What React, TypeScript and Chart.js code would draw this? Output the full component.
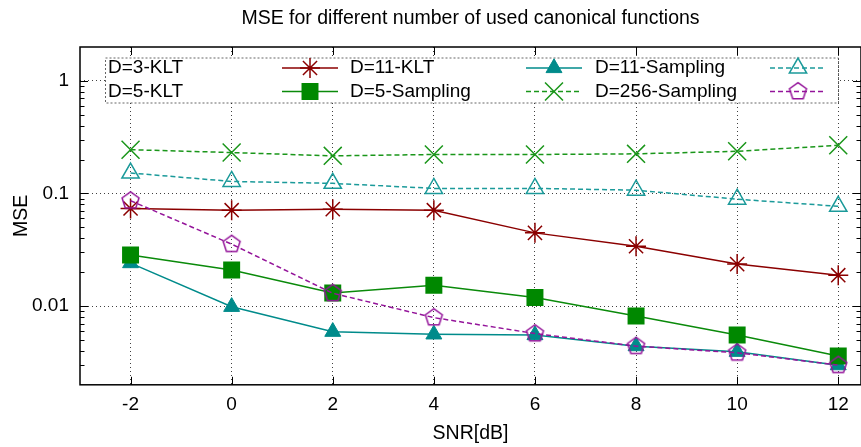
import React, { useEffect, useRef } from 'react';
import { Chart, registerables } from 'chart.js';
import { drawPoint } from 'chart.js/helpers';

Chart.register(...registerables);

// ---- data ----
const TITLE = 'MSE for different number of used canonical functions';
const X_LABEL = 'SNR[dB]';
const Y_LABEL = 'MSE';

const SNR = [-2, 0, 2, 4, 6, 8, 10, 12];
const X_TICKS = [-2, 0, 2, 4, 6, 8, 10, 12];
const Y_TICKS = [0.01, 0.1, 1];
const X_RANGE = [-3, 12.45];
const Y_RANGE = [0.002, 2];

const SERIES_LABELS = ['D=3-KLT', 'D=11-KLT', 'D=11-Sampling', 'D=5-KLT', 'D=5-Sampling', 'D=256-Sampling'];

const D3_KLT = [0.0736, 0.0711, 0.0726, 0.0711, 0.0447, 0.034, 0.0236, 0.0188];
const D11_KLT = [0.0241, 0.00986, 0.00592, 0.00561, 0.00553, 0.00441, 0.00393, 0.00299];
const D11_SAMPLING = [0.152, 0.128, 0.123, 0.111, 0.111, 0.107, 0.089, 0.077];
const D5_KLT = [0.0284, 0.0209, 0.0131, 0.0153, 0.0119, 0.00815, 0.00553, 0.0036];
const D5_SAMPLING = [0.245, 0.231, 0.216, 0.222, 0.222, 0.225, 0.237, 0.268];
const D256_SAMPLING = [0.0863, 0.0355, 0.013, 0.0079, 0.0057, 0.00441, 0.00385, 0.00299];

const FONT = "'Liberation Sans', Arial, Helvetica, sans-serif";

// open pentagon marker drawn once into a small canvas
function makePentagon(color: string, r: number, lw: number): HTMLCanvasElement {
  const size = Math.ceil(2 * r + 2 * lw + 2);
  const c = document.createElement('canvas');
  c.width = size;
  c.height = size;
  const g = c.getContext('2d')!;
  g.strokeStyle = color;
  g.lineWidth = lw;
  g.lineJoin = 'miter';
  g.beginPath();
  for (let k = 0; k < 5; k++) {
    const ang = -Math.PI / 2 + (k * 2 * Math.PI) / 5;
    const px = size / 2 + r * Math.cos(ang);
    const py = size / 2 + r * Math.sin(ang);
    if (k === 0) g.moveTo(px, py);
    else g.lineTo(px, py);
  }
  g.closePath();
  g.stroke();
  return c;
}

const pts = (ys: number[]) => SNR.map((x, i) => ({ x, y: ys[i] }));

// legend, frame, inward ticks and title
const decorPlugin = {
  id: 'decor',
  afterDraw(chart: any) {
    const { ctx, chartArea: a, scales } = chart;
    const xs = scales.x;
    const ys = scales.y;
    ctx.save();

    // title
    ctx.fillStyle = '#000';
    ctx.font = `19.5px ${FONT}`;
    ctx.textAlign = 'center';
    ctx.textBaseline = 'middle';
    ctx.fillText(TITLE, (a.left + a.right) / 2, 18.5);

    // key box
    const box = { l: 105, t: 57.5, r: 838, b: 102.5 };
    ctx.fillStyle = '#fff';
    ctx.fillRect(box.l, box.t, box.r - box.l, box.b - box.t);
    ctx.strokeStyle = 'rgba(0,0,0,0.6)';
    ctx.lineWidth = 1;
    ctx.setLineDash([2, 2]);
    ctx.strokeRect(box.l + 0.5, box.t + 0.5, box.r - box.l, box.b - box.t);
    ctx.setLineDash([]);

    const colText = [108, 350, 595];
    const colSample = [310, 554, 798];
    const rowY = [68, 91.5];
    chart.data.datasets.forEach((ds: any, i: number) => {
      const col = i % 3;
      const row = Math.floor(i / 3);
      const y = rowY[row];
      ctx.fillStyle = '#000';
      ctx.font = `19px ${FONT}`;
      ctx.textAlign = 'left';
      ctx.textBaseline = 'middle';
      ctx.fillText(ds.label, colText[col], y);
      const cx = colSample[col];
      ctx.strokeStyle = ds.borderColor;
      ctx.lineWidth = ds.borderWidth;
      ctx.setLineDash(ds.borderDash || []);
      ctx.beginPath();
      ctx.moveTo(cx - 28, y);
      ctx.lineTo(cx + 28, y);
      ctx.stroke();
      ctx.setLineDash([]);
      ctx.fillStyle = ds.pointBackgroundColor;
      ctx.strokeStyle = ds.pointBorderColor;
      ctx.lineWidth = ds.pointBorderWidth;
      drawPoint(ctx, { pointStyle: ds.pointStyle, radius: ds.pointRadius, rotation: 0, borderWidth: ds.pointBorderWidth }, cx, y);
    });

    // frame
    ctx.strokeStyle = '#000';
    ctx.lineWidth = 1.5;
    ctx.strokeRect(a.left, a.top, a.right - a.left, a.bottom - a.top);

    // inward tick marks
    ctx.lineWidth = 1;
    ctx.beginPath();
    const major = 8;
    const minor = 4.5;
    X_TICKS.forEach((v) => {
      const px = Math.round(xs.getPixelForValue(v)) + 0.5;
      ctx.moveTo(px, a.bottom);
      ctx.lineTo(px, a.bottom - major);
      ctx.moveTo(px, a.top);
      ctx.lineTo(px, a.top + major);
    });
    const yTick = (v: number, len: number) => {
      const py = Math.round(ys.getPixelForValue(v)) + 0.5;
      ctx.moveTo(a.left, py);
      ctx.lineTo(a.left + len, py);
      ctx.moveTo(a.right, py);
      ctx.lineTo(a.right - len, py);
    };
    Y_TICKS.forEach((v) => yTick(v, major));
    for (let e = -3; e <= 0; e++) {
      for (let k = 2; k <= 9; k++) {
        const v = k * Math.pow(10, e);
        if (v > Y_RANGE[0] * 1.0001 && v < Y_RANGE[1] * 0.9999) yTick(v, minor);
      }
    }
    ctx.stroke();
    ctx.restore();
  },
};

export default function App() {
  const ref = useRef<HTMLCanvasElement | null>(null);

  useEffect(() => {
    if (!ref.current) return;
    const pentagon = makePentagon('#94149a', 8.9, 1.5);

    const tickFont = { family: FONT, size: 19 };
    const chart = new Chart(ref.current, {
      type: 'line',
      data: {
        datasets: [
          {
            label: SERIES_LABELS[0],
            data: pts(D3_KLT),
            borderColor: '#8b0000',
            borderWidth: 1.5,
            pointStyle: 'star',
            pointRadius: 10,
            pointBorderColor: '#8b0000',
            pointBackgroundColor: '#8b0000',
            pointBorderWidth: 1.5,
            order: 5,
          },
          {
            label: SERIES_LABELS[1],
            data: pts(D11_KLT),
            borderColor: '#008b8b',
            borderWidth: 1.5,
            pointStyle: 'triangle',
            pointRadius: 9.2,
            pointBorderColor: '#008b8b',
            pointBackgroundColor: '#008b8b',
            pointBorderWidth: 1,
            order: 4,
          },
          {
            label: SERIES_LABELS[2],
            data: pts(D11_SAMPLING),
            borderColor: '#1b9a9a',
            borderWidth: 1.5,
            borderDash: [5, 3],
            pointStyle: 'triangle',
            pointRadius: 10,
            pointBorderColor: '#1b9a9a',
            pointBackgroundColor: 'rgba(0,0,0,0)',
            pointBorderWidth: 1.5,
            order: 3,
          },
          {
            label: SERIES_LABELS[3],
            data: pts(D5_KLT),
            borderColor: '#0a8a0a',
            borderWidth: 1.5,
            pointStyle: 'rect',
            pointRadius: 12,
            pointBorderColor: '#008800',
            pointBackgroundColor: '#008800',
            pointBorderWidth: 0,
            order: 2,
          },
          {
            label: SERIES_LABELS[4],
            data: pts(D5_SAMPLING),
            borderColor: '#1a961a',
            borderWidth: 1.5,
            borderDash: [5, 3],
            pointStyle: 'crossRot',
            pointRadius: 12.7,
            pointBorderColor: '#1a961a',
            pointBackgroundColor: '#1a961a',
            pointBorderWidth: 1.5,
            order: 1,
          },
          {
            label: SERIES_LABELS[5],
            data: pts(D256_SAMPLING),
            borderColor: '#94149a',
            borderWidth: 1.5,
            borderDash: [5, 3],
            pointStyle: pentagon as any,
            pointRadius: 9,
            pointBorderColor: '#94149a',
            pointBackgroundColor: 'rgba(0,0,0,0)',
            pointBorderWidth: 1.5,
            order: 0,
          },
        ] as any,
      },
      options: {
        animation: false,
        responsive: true,
        maintainAspectRatio: false,
        devicePixelRatio: 1,
        events: [],
        layout: { autoPadding: false, padding: { top: 47, right: 0, bottom: 0, left: 0 } },
        elements: { line: { tension: 0, fill: false } },
        plugins: {
          legend: { display: false },
          title: { display: false },
          tooltip: { enabled: false },
        },
        scales: {
          x: {
            type: 'linear',
            min: X_RANGE[0],
            max: X_RANGE[1],
            afterBuildTicks: (s: any) => {
              s.ticks = X_TICKS.map((value) => ({ value }));
            },
            afterFit: (s: any) => {
              s.height = 62.2;
            },
            ticks: {
              color: '#000',
              font: tickFont,
              padding: 9,
              maxRotation: 0,
              autoSkip: false,
              callback: (v: any) => String(v),
            },
            grid: { color: 'rgba(0,0,0,0.75)', lineWidth: 1, drawTicks: false },
            border: { display: false, dash: [1, 3] },
            title: {
              display: true,
              text: X_LABEL,
              color: '#000',
              font: { family: FONT, size: 19.5 },
              padding: { top: 0, bottom: 1.3 },
            },
          },
          y: {
            type: 'logarithmic',
            min: Y_RANGE[0],
            max: Y_RANGE[1],
            afterBuildTicks: (s: any) => {
              s.ticks = Y_TICKS.map((value) => ({ value }));
            },
            afterFit: (s: any) => {
              s.width = 80;
            },
            ticks: {
              color: '#000',
              font: tickFont,
              padding: 11,
              autoSkip: false,
              callback: (v: any) => String(v),
            },
            grid: { color: 'rgba(0,0,0,0.75)', lineWidth: 1, drawTicks: false },
            border: { display: false, dash: [1, 3] },
            title: {
              display: true,
              text: Y_LABEL,
              color: '#000',
              font: { family: FONT, size: 19.5 },
              padding: { top: 10.3, bottom: 0 },
            },
          },
        },
      } as any,
      plugins: [decorPlugin],
    });
    return () => chart.destroy();
  }, []);

  return (
    <div style={{ position: 'fixed', left: 0, top: 0, width: 861, height: 447, background: '#fff' }}>
      <canvas ref={ref} />
    </div>
  );
}
